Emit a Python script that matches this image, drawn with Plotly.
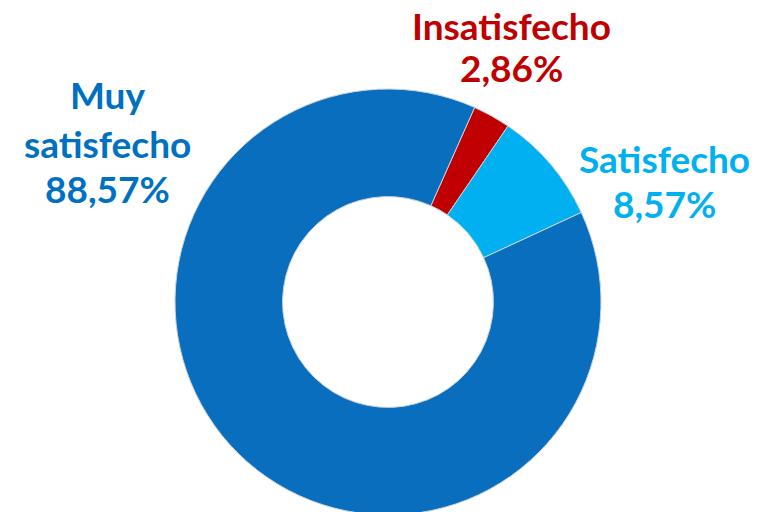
import plotly.graph_objects as go

# chart data
labels = ['Insatisfecho', 'Satisfecho', 'Muy satisfecho']
label_lines = [['Insatisfecho'], ['Satisfecho'], ['Muy', 'satisfecho']]
values = [2.86, 8.57, 88.57]
slice_colors = ['#C00000', '#00B0F0', '#0A6EBE']
text_colors = ['#C00000', '#00B0F0', '#0070C0']

# label placement in pixels: x centre, y of each line (from top)
label_x = [511, 664, 107]
label_y = [[27, 69], [160, 205], [96, 145, 190]]

W, H = 757, 512
OFF = 8  # page body margin shifts the whole figure by this much


def fmt(v):
    '''Percentage with comma decimal separator'''
    return f'{v:.2f}'.replace('.', ',') + '%'


# donut: centre (388, 302) on screen, radius 213
cx, cy, r = 388 - OFF, 302 - OFF, 213
pie = go.Pie(
    labels=labels,
    values=values,
    sort=False,
    direction='clockwise',
    rotation=24,
    hole=0.495,
    textinfo='none',
    hoverinfo='label+percent',
    marker={'colors': slice_colors, 'line': {'color': '#C8D3DC', 'width': 1}},
    domain={'x': [(cx - r) / W, (cx + r) / W],
            'y': [(H - cy - r) / H, (H - cy + r) / H]},
    showlegend=False,
)

fig = go.Figure(pie)

for lines, v, c, x, ys in zip(label_lines, values, text_colors, label_x, label_y):
    for txt, y in zip(lines + [fmt(v)], ys):
        fig.add_annotation(
            x=(x - OFF) / W, y=1 - (y - OFF - 2) / H, xref='paper', yref='paper',
            text=f'<b>{txt}</b>',
            showarrow=False,
            xanchor='center', yanchor='middle',
            font={'family': 'Lato', 'size': 37, 'color': c},
        )

fig.update_layout(
    width=W, height=H,
    margin={'l': 0, 'r': 0, 't': 0, 'b': 0},
    paper_bgcolor='white', plot_bgcolor='white',
)

fig.write_html('out.html')
